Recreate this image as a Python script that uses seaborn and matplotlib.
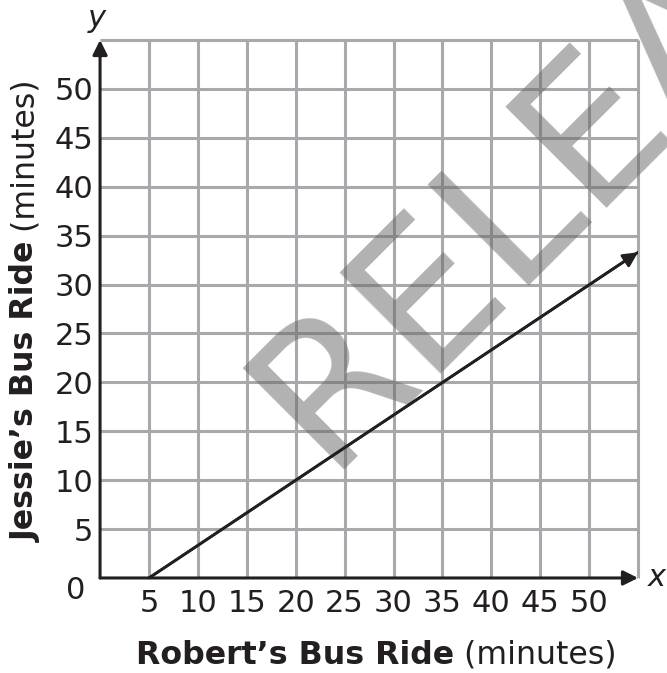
import matplotlib

matplotlib.use("Agg")
import matplotlib.pyplot as plt
import seaborn as sns
import pandas as pd

# chart values
x_ticks = [5, 10, 15, 20, 25, 30, 35, 40, 45, 50]
y_ticks = [5, 10, 15, 20, 25, 30, 35, 40, 45, 50]
grid_max = 55
robert_ride = [5, 55]      # minutes
jessie_ride = [0, 33.3]    # minutes

sns.set_theme(style="white")
plt.rcParams["font.family"] = ["DejaVu Sans"]

ink = "#231f20"
grid_color = "#a7a9ac"
tick_size = 22
label_size = 22.8

fig = plt.figure(figsize=(6.67, 6.73), dpi=100)
ax = fig.add_axes([0.15, 0.1412, 0.8066, 0.7994])
ax.set_xlim(0, grid_max)
ax.set_ylim(0, grid_max)
for s in ax.spines.values():
    s.set_visible(False)

# grid
lines = list(range(5, grid_max + 1, 5))
ax.vlines(lines, 0, grid_max, colors=grid_color, lw=2.2, clip_on=False, zorder=1)
ax.hlines(lines, 0, grid_max, colors=grid_color, lw=2.2, clip_on=False, zorder=1)

# axes with arrows
arrow_kw = dict(arrowstyle="-|>", color=ink, lw=2.2, mutation_scale=22,
                shrinkA=0, shrinkB=0)
ax.annotate("", xy=(grid_max, 0), xytext=(0, 0), arrowprops=arrow_kw,
            annotation_clip=False, zorder=4)
ax.annotate("", xy=(0, grid_max), xytext=(0, 0), arrowprops=arrow_kw,
            annotation_clip=False, zorder=4)

# data line
df = pd.DataFrame({"robert": robert_ride, "jessie": jessie_ride})
sns.lineplot(data=df, x="robert", y="jessie", ax=ax, color=ink, lw=2,
             zorder=5)
ax.annotate("", xy=(df.robert.iloc[-1], df.jessie.iloc[-1]),
            xytext=(df.robert.iloc[-2], df.jessie.iloc[-2]),
            arrowprops=dict(arrowstyle="-|>", color=ink, lw=2,
                            mutation_scale=22, shrinkA=0, shrinkB=0),
            annotation_clip=False, zorder=5)

# ticks
ax.set_xticks(x_ticks)
ax.set_xticklabels([str(v) for v in x_ticks])
ax.set_yticks(y_ticks)
ax.set_yticklabels([str(v) for v in y_ticks])
ax.tick_params(axis="x", length=0, labelsize=tick_size, pad=8, colors=ink)
ax.tick_params(axis="y", length=0, labelsize=tick_size, pad=5, colors=ink)
ax.set_xlabel("")
ax.set_ylabel("")
ax.text(-1.5, -1.3, "0", ha="right", va="center", fontsize=tick_size,
        color=ink, clip_on=False)
ax.text(-0.3, grid_max + 2.2, "y", ha="center", va="center",
        fontsize=tick_size, style="italic", color=ink, clip_on=False)
ax.text(grid_max + 1.0, 0, "x", ha="left", va="center",
        fontsize=tick_size, style="italic", color=ink, clip_on=False)

# watermark
ax.text(326 / 667, 1 - 470 / 673, "RELEASED", transform=fig.transFigure,
        rotation=45, rotation_mode="anchor", ha="left", va="baseline",
        fontsize=142, family="DejaVu Sans", color="#666666", alpha=0.5,
        clip_on=False, zorder=2)

# axis titles: bold part + regular part
fig.canvas.draw()
r = fig.canvas.get_renderer()
xb = fig.text(0, 0, "Robert\u2019s Bus Ride", weight="bold",
              fontsize=label_size, color=ink, va="center", ha="left")
xr = fig.text(0, 0, " (minutes)", fontsize=label_size, color=ink,
              va="center", ha="left")
w1 = xb.get_window_extent(r).width
w2 = xr.get_window_extent(r).width
cx, cy = 376, 673 - 655
x0 = cx - (w1 + w2) / 2
xb.set_position((x0 / 667, cy / 673))
xr.set_position(((x0 + w1) / 667, cy / 673))

yb = fig.text(0, 0, "Jessie\u2019s Bus Ride", weight="bold", rotation=90,
              fontsize=label_size, color=ink, va="bottom", ha="center")
yr = fig.text(0, 0, " (minutes)", rotation=90, fontsize=label_size,
              color=ink, va="bottom", ha="center")
h1 = yb.get_window_extent(r).height
h2 = yr.get_window_extent(r).height
cx, cy = 26, 673 - 311
y0 = cy - (h1 + h2) / 2
yb.set_position((cx / 667, y0 / 673))
yr.set_position((cx / 667, (y0 + h1) / 673))

fig.savefig("out.png", dpi=100)
